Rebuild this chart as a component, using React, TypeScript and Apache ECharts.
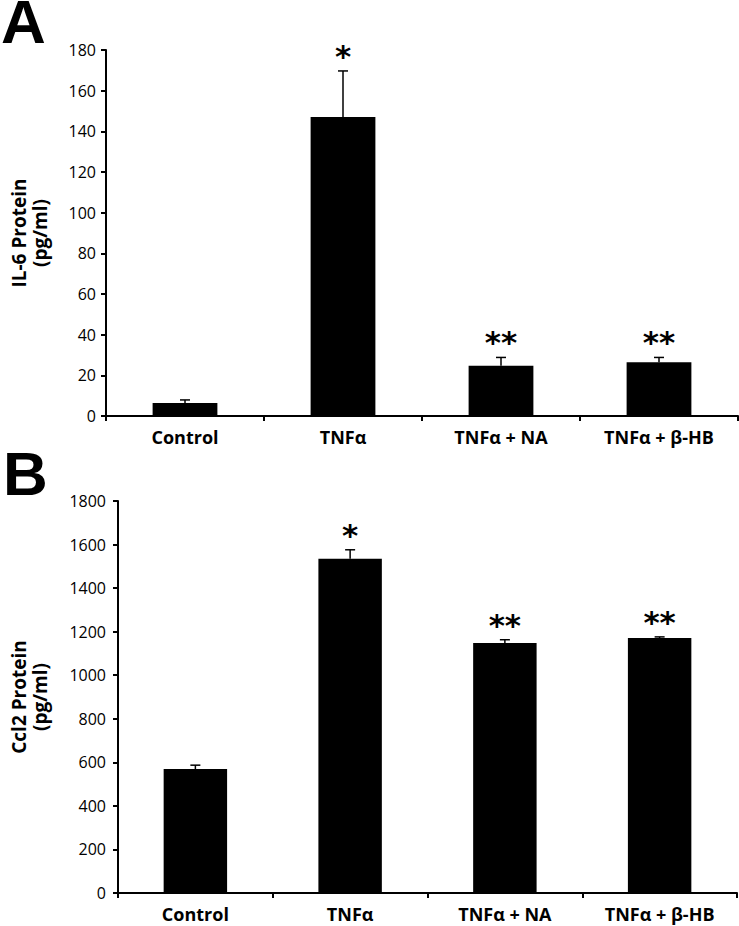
import React, { useEffect, useRef } from "react";
import * as echarts from "echarts";

const categories = ["Control", "TNFα", "TNFα + NA", "TNFα + β-HB"];
const il6Mean = [6.4, 147, 24.7, 26.4];
const il6Err = [1.5, 22.7, 4.1, 2.4];
const il6Stars = ["", "*", "**", "**"];
const ccl2Mean = [569, 1535, 1148, 1171];
const ccl2Err = [18, 41, 15, 5];
const ccl2Stars = ["", "*", "**", "**"];
const il6Ticks = { min: 0, max: 180, interval: 20 };
const ccl2Ticks = { min: 0, max: 1800, interval: 200 };

const FONT = "'Open Sans', 'DejaVu Sans', sans-serif";

function errSeries(means: number[], errs: number[], stars: string[], idx: number) {
  return {
    type: "custom",
    xAxisIndex: idx,
    yAxisIndex: idx,
    z: 5,
    data: means.map((m, i) => [i, m, errs[i]]),
    renderItem: (params: any, api: any) => {
      const i = api.value(0);
      const m = api.value(1);
      const e = api.value(2);
      const base = api.coord([i, m]);
      const top = api.coord([i, m + e]);
      const hw = 5;
      const children: any[] = [
        { type: "line", shape: { x1: base[0], y1: base[1], x2: top[0], y2: top[1] }, style: { stroke: "#000", lineWidth: 1.5 } },
        { type: "line", shape: { x1: top[0] - hw, y1: top[1], x2: top[0] + hw, y2: top[1] }, style: { stroke: "#000", lineWidth: 1.5 } },
      ];
      const s = stars[params.dataIndex];
      if (s) {
        children.push({
          type: "text",
          style: {
            text: s,
            x: top[0],
            y: top[1] - 15,
            align: "center",
            verticalAlign: "middle",
            font: "bold 31px 'DejaVu Sans', sans-serif",
            fill: "#000",
          },
        });
      }
      return { type: "group", children };
    },
  };
}

function xAx(idx: number) {
  return {
    type: "category",
    gridIndex: idx,
    data: categories,
    axisLine: { lineStyle: { color: "#000", width: 2 } },
    axisTick: { show: true, length: 5, lineStyle: { color: "#000", width: 2 } },
    axisLabel: { color: "#000", fontFamily: FONT, fontWeight: "bold", fontSize: 18, margin: 12 },
    splitLine: { show: false },
  };
}

function yAx(idx: number, t: any, name: string, gap: number, margin: number) {
  return {
    type: "value",
    gridIndex: idx,
    min: t.min,
    max: t.max,
    interval: t.interval,
    name,
    nameLocation: "middle",
    nameGap: gap,
    nameRotate: 90,
    nameTextStyle: { color: "#000", fontFamily: FONT, fontWeight: "bold", fontSize: 19, lineHeight: 21, align: "center" },
    axisLine: { show: true, lineStyle: { color: "#000", width: 2 } },
    axisTick: { show: true, length: 5, lineStyle: { color: "#000", width: 2 } },
    axisLabel: { color: "#000", fontFamily: FONT, fontSize: 16, margin, formatter: (v: number) => String(v) },
    splitLine: { show: false },
  };
}

export default function App() {
  const ref = useRef<HTMLDivElement>(null);
  useEffect(() => {
    if (!ref.current) return;
    const chart = echarts.init(ref.current, undefined, { renderer: "svg" });
    chart.setOption({
      animation: false,
      backgroundColor: "#fff",
      grid: [
        { left: 100, top: 50, width: 638, height: 366 },
        { left: 112, top: 501, width: 625, height: 392 },
      ],
      xAxis: [xAx(0), xAx(1)],
      yAxis: [
        yAx(0, il6Ticks, "IL-6 Protein\n(pg/ml)", 56, 10),
        yAx(1, ccl2Ticks, "Ccl2 Protein\n(pg/ml)", 68, 12),
      ],
      series: [
        { type: "bar", xAxisIndex: 0, yAxisIndex: 0, data: il6Mean, barWidth: "41%", itemStyle: { color: "#000" } },
        errSeries(il6Mean, il6Err, il6Stars, 0),
        { type: "bar", xAxisIndex: 1, yAxisIndex: 1, data: ccl2Mean, barWidth: "41%", itemStyle: { color: "#000" } },
        errSeries(ccl2Mean, ccl2Err, ccl2Stars, 1),
      ],
      graphic: [
        { type: "text", x: 1, y: 21, style: { text: "A", font: "bold 62px 'Liberation Sans', sans-serif", verticalAlign: "middle", fill: "#000" } },
        { type: "text", x: 3, y: 473, style: { text: "B", font: "bold 62px 'Liberation Sans', sans-serif", verticalAlign: "middle", fill: "#000" } },
      ],
    });
    return () => chart.dispose();
  }, []);
  return <div ref={ref} style={{ position: "absolute", left: 0, top: 0, width: 739, height: 926 }} />;
}
